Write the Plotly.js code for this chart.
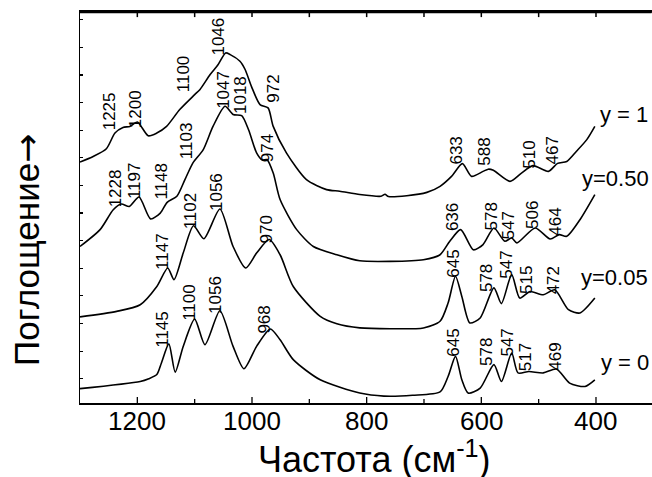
<!DOCTYPE html>
<html>
<head>
<meta charset="utf-8">
<script src="https://cdn.plot.ly/plotly-3.0.1.min.js"></script>
<style>
  html, body { margin: 0; padding: 0; background: #fff; overflow: hidden; }
  #chart { width: 652px; height: 477px; }
</style>
</head>
<body>
<div id="chart"></div>
<script>
// IR absorption spectra, wavenumber in cm^-1, absorbance in arbitrary offset units
const wnY1 = [1300, 1277, 1254, 1239, 1225, 1213, 1200, 1181, 1166, 1149, 1126, 1100, 1091, 1073, 1059, 1046, 1038, 1021, 1012, 1001, 986, 972, 963, 940, 905, 870, 847, 812, 775, 768, 762, 730, 695, 672, 652, 633, 617, 597, 588, 579, 550, 530, 510, 483, 467, 451, 434, 416, 402];
const absY1 = [8.73, 8.93, 9.21, 9.78, 9.98, 10.02, 10.18, 9.68, 9.78, 10.02, 10.63, 11.17, 11.35, 11.9, 12.26, 12.68, 12.62, 12.38, 12.08, 11.47, 10.81, 10.69, 10.02, 9.06, 8.09, 7.73, 7.67, 7.55, 7.49, 7.56, 7.48, 7.51, 7.63, 7.85, 8.21, 8.67, 8.21, 8.39, 8.47, 8.43, 8.03, 8.33, 8.6, 8.39, 8.68, 8.75, 9.12, 9.54, 10.02];

const wnY050 = [1300, 1265, 1242, 1228, 1214, 1197, 1177, 1160, 1148, 1131, 1117, 1103, 1085, 1068, 1047, 1033, 1018, 1006, 992, 982, 974, 963, 951, 922, 893, 852, 812, 759, 701, 672, 655, 636, 614, 597, 578, 559, 547, 538, 506, 480, 464, 451, 428, 402];
const absY050 = [5.67, 6.28, 7.0, 7.21, 7.12, 7.46, 6.67, 6.88, 7.27, 7.49, 8.09, 8.7, 9.18, 10.02, 10.75, 10.45, 10.41, 9.9, 9.06, 8.8, 8.82, 8.33, 7.37, 6.28, 5.67, 5.37, 5.15, 5.13, 5.19, 5.37, 5.86, 6.28, 5.55, 5.74, 6.34, 5.86, 5.98, 5.8, 6.34, 5.94, 6.1, 6.04, 6.64, 7.55];

const wnY005 = [1300, 1236, 1195, 1166, 1147, 1136, 1120, 1102, 1084, 1056, 1033, 1011, 992, 970, 951, 928, 881, 852, 812, 759, 701, 672, 658, 645, 634, 620, 602, 578, 565, 547, 533, 515, 492, 472, 448, 428, 402];
const absY005 = [3.12, 3.32, 3.56, 4.22, 4.89, 4.47, 5.43, 6.42, 5.95, 7.03, 5.67, 4.89, 5.43, 5.92, 5.37, 4.22, 3.14, 2.87, 2.72, 2.69, 2.72, 2.96, 3.62, 4.59, 3.86, 2.9, 3.08, 4.17, 3.6, 4.65, 3.8, 4.04, 3.92, 4.1, 3.38, 3.26, 3.8];

const wnY0 = [1300, 1195, 1180, 1166, 1158, 1145, 1134, 1120, 1100, 1082, 1056, 1033, 1014, 992, 968, 951, 928, 881, 812, 770, 720, 672, 658, 645, 634, 623, 602, 578, 565, 547, 536, 517, 492, 469, 446, 419, 402];
const absY0 = [0.52, 0.78, 0.88, 1.03, 1.45, 2.14, 1.12, 2.05, 3.04, 2.11, 3.34, 2.05, 1.24, 2.05, 2.68, 2.29, 1.57, 0.84, 0.36, 0.25, 0.28, 0.4, 0.96, 1.69, 0.84, 0.36, 0.54, 1.39, 0.78, 1.81, 1.09, 1.14, 1.09, 1.23, 0.72, 0.6, 0.84];

const seriesNames = ['y = 1', 'y=0.50', 'y=0.05', 'y = 0'];
const xTicks = [1200, 1000, 800, 600, 400];
const xTickText = ['1200', '1000', '800', '600', '400'];
const xMinorTicks = [1100, 900, 700, 500];

// peak assignments: label text, label x (cm^-1), label base y
const peakText = ['1225', '1200', '1100', '1046', '972', '633', '588', '510', '467',
                  '1228', '1197', '1148', '1103', '1047', '1018', '974', '636', '578', '547', '506', '464',
                  '1147', '1102', '1056', '970', '645', '578', '547', '515', '472',
                  '1145', '1100', '1056', '968', '645', '578', '547', '517', '469'];
const peakX = [1249, 1204, 1120, 1058, 963, 643, 594, 516, 476,
               1239, 1205, 1157, 1114, 1051, 1021, 974, 649, 582, 553, 511, 470,
               1155, 1107, 1061, 974, 649, 591, 556, 521, 475,
               1155, 1109, 1065, 979, 650, 590, 556, 523, 470];
const peakY = [9.85, 9.92, 11.21, 12.54, 10.85, 8.59, 8.55, 8.47, 8.62,
               7.05, 7.35, 7.35, 8.8, 10.61, 10.43, 8.68, 6.2, 6.2, 5.9, 6.28, 6.02,
               4.77, 6.26, 6.92, 5.74, 4.51, 4.0, 4.45, 3.9, 3.9,
               1.95, 2.94, 3.18, 2.48, 1.63, 1.31, 1.63, 1.13, 1.13];

// series name placement at the right end of each spectrum
const nameX = [395, 427, 428, 393];
const nameY = [10.45, 8.15, 4.53, 1.45];

const FONT = 'Liberation Sans, Arial, sans-serif';
const X_RANGE = [1300, 302.3];
const Y_RANGE = [0, 14.2];
const PX_PER_Y = 392 / 14.2;        // px per y unit in the plot area
const lineStyle = { color: '#000', width: 1.6, shape: 'spline', smoothing: 0.7 };

const traces = [
  { x: wnY1, y: absY1, name: seriesNames[0] },
  { x: wnY050, y: absY050, name: seriesNames[1] },
  { x: wnY005, y: absY005, name: seriesNames[2] },
  { x: wnY0, y: absY0, name: seriesNames[3] }
].map(t => Object.assign(t, { type: 'scatter', mode: 'lines', line: lineStyle, hoverinfo: 'skip' }));

// frame pieces: top border, inward ticks on top (every 100) and bottom (long / short)
function tickPath(vals, yBase, len) {
  const xs = [], ys = [];
  vals.forEach(v => { xs.push(v, v, null); ys.push(yBase, yBase + len, null); });
  return { xs, ys };
}
const yTopEdge = Y_RANGE[1] - 1.1 / PX_PER_Y;
const topTicks = tickPath(xTicks.concat(xMinorTicks), yTopEdge, -5 / PX_PER_Y);
const botMajor = tickPath(xTicks, Y_RANGE[0], 6 / PX_PER_Y);
const botMinor = tickPath(xMinorTicks, Y_RANGE[0], 4 / PX_PER_Y);
const frameTrace = (x, y, w) => ({ type: 'scatter', mode: 'lines', x, y, cliponaxis: false,
  line: { color: '#000', width: w }, hoverinfo: 'skip', showlegend: false, connectgaps: false });
traces.push(frameTrace([X_RANGE[0], 303], [yTopEdge, yTopEdge], 2.2));
traces.push(frameTrace(topTicks.xs, topTicks.ys, 1.5));
traces.push(frameTrace(botMajor.xs, botMajor.ys, 1.3));
traces.push(frameTrace(botMinor.xs, botMinor.ys, 1.3));

const annotations = [];
peakText.forEach((t, i) => {
  annotations.push({
    x: peakX[i], y: peakY[i], xref: 'x', yref: 'y', text: t, showarrow: false,
    textangle: -90, xanchor: 'center', yanchor: 'bottom',
    font: { family: FONT, size: 17, color: '#000' }, borderpad: 0
  });
});
seriesNames.forEach((t, i) => {
  annotations.push({
    x: nameX[i], y: nameY[i], xref: 'x', yref: 'y', text: t, showarrow: false,
    xanchor: 'left', yanchor: 'middle',
    font: { family: FONT, size: 22, color: '#000' }, borderpad: 0
  });
});
// x tick labels
xTicks.forEach((v, i) => {
  annotations.push({
    x: v, y: -0.047, xref: 'x', yref: 'paper', text: xTickText[i], showarrow: false,
    xanchor: 'center', yanchor: 'middle',
    font: { family: FONT, size: 26, color: '#000' }, borderpad: 0
  });
});
// axis titles
annotations.push({
  x: -0.094, y: 0.391, xref: 'paper', yref: 'paper',
  text: 'Поглощение<span style="font-family:DejaVu Sans">→</span>', showarrow: false,
  textangle: -90, xanchor: 'center', yanchor: 'middle',
  font: { family: FONT, size: 35, color: '#000' }
});
annotations.push({
  x: 0.514, y: -0.139, xref: 'paper', yref: 'paper', text: 'Частота (см<sup>-1</sup>)', showarrow: false,
  xanchor: 'center', yanchor: 'middle',
  font: { family: FONT, size: 36, color: '#000' }
});

const layout = {
  width: 652, height: 477,
  margin: { l: 80, r: 0, t: 11, b: 74 },
  paper_bgcolor: '#fff', plot_bgcolor: '#fff',
  showlegend: false,
  font: { family: FONT, color: '#000' },
  xaxis: {
    range: X_RANGE, showgrid: false, zeroline: false,
    showline: true, mirror: true, linecolor: '#000', linewidth: 1.5,
    ticks: '', showticklabels: false
  },
  yaxis: {
    range: Y_RANGE, showgrid: false, zeroline: false,
    showline: true, linecolor: '#000', linewidth: 1.5, mirror: false,
    ticks: 'inside', ticklen: 3, tickwidth: 1.2, tickcolor: '#000',
    tick0: 0.88, dtick: 1, showticklabels: false
  },
  shapes: [
    { type: 'line', xref: 'paper', yref: 'paper', x0: 0, x1: 1, y0: 0.998, y1: 0.998, layer: 'above', line: { color: '#000', width: 2 } }
  ],
  annotations: annotations
};

Plotly.newPlot('chart', traces, layout, { displayModeBar: false, staticPlot: true });
</script>
</body>
</html>
